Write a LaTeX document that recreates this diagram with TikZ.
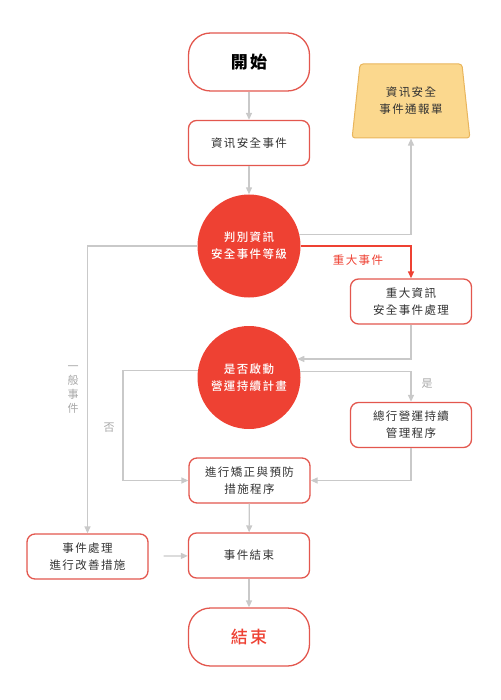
\documentclass[tikz,border=0pt]{standalone}
\usepackage{fontspec}
\setmainfont{Noto Sans CJK TC}[LetterSpace=12]
\newfontfamily\cjkmed{Noto Sans CJK TC Medium}[LetterSpace=12]
\usetikzlibrary{arrows.meta,shapes.geometric,calc}
\definecolor{cred}{HTML}{EE4133}
\definecolor{boxred}{HTML}{E3574E}
\definecolor{gline}{HTML}{C9C9C9}
\definecolor{txt}{HTML}{333333}
\definecolor{lgray}{HTML}{A8A8A8}
\definecolor{trapfill}{HTML}{FBD88E}
\definecolor{trapdraw}{HTML}{E9B55C}
\begin{document}
\begin{tikzpicture}[x=1pt,y=-1pt,
  box/.style={draw=boxred, line width=1.3pt, rounded corners=8pt, fill=white,
    minimum width=121pt, minimum height=45pt, align=center, text=txt, inner sep=2pt,
    font=\fontsize{11.5}{17}\selectfont},
  term/.style={box, rounded corners=22pt, minimum height=58pt},
  circ/.style={circle, fill=cred, minimum size=103pt, inner sep=0pt, text=white,
    align=center, font=\fontsize{11.5}{17}\selectfont\cjkmed},
  conn/.style={draw=gline, line width=1.3pt, -{Triangle[length=7pt,width=6pt]}},
  rconn/.style={draw=cred, line width=1.3pt, -{Triangle[length=7pt,width=6pt]}},
  lab/.style={text=lgray, font=\fontsize{11}{14}\selectfont, align=center}
]
\useasboundingbox (0,0) rectangle (500,700);
\node[term, font=\fontsize{17}{20}\selectfont\bfseries, text=black] (start) at (249,62) {開始};
\node[box] (event) at (249,143) {資讯安全事件};
\node[trapezium, trapezium stretches=true, minimum width=118pt, minimum height=74pt,
  trapezium left angle=81, trapezium right angle=81, rounded corners=3pt,
  fill=trapfill, draw=trapdraw, line width=1pt, align=center, text=txt,
  font=\fontsize{11.5}{17}\selectfont] (report) at (411,101) {資讯安全\\事件通報單};
\node[circ] (c1) at (249,246) {判別資訊\\安全事件等級};
\node[box] (major) at (411,301.5) {重大資訊\\安全事件處理};
\node[circ] (c2) at (249,377.5) {是否啟動\\營運持續計畫};
\node[box] (bcm) at (411,425) {總行營運持續\\管理程序};
\node[box] (fix) at (249.5,480.5) {進行矯正與預防\\措施程序};
\node[box] (chuli) at (87.5,556.5) {事件處理\\進行改善措施};
\node[box] (end1) at (249,555.5) {事件結束};
\node[term, font=\fontsize{17}{20}\selectfont\cjkmed, text=cred] (finish) at (249,637) {結束};
\coordinate (nocorner) at (123,480.5);

\node[text=cred, font=\fontsize{11.5}{14}\selectfont] (lmajor) at (358,260) {重大事件};
\node[lab] (lyes) at (427,384) {是};
\node[lab] (lno) at (109,428) {否};
\node[lab] (lgen) at (73,390) {一\\般\\事\\件};

\draw[conn] (start) -- (event);
\draw[conn] (event) -- (c1);
\draw[conn] (c1.13.6) -| (report.south);
\draw[rconn] (c1.east) -| (major.north);
\draw[conn] (c1.west) -| (chuli.north);
\draw[conn] (major.south) |- (c2.21);
\draw[conn] (c2.7.3) -| (bcm.north);
\draw[conn] (bcm.south) |- (fix.east);
\draw[conn] (c2.172.7) -| (nocorner) -- (fix.west);
\draw[conn] (fix) -- (end1);
\draw[conn, shorten <=15pt] (chuli) -- (end1);
\draw[conn] (end1) -- (finish);
\end{tikzpicture}
\end{document}
